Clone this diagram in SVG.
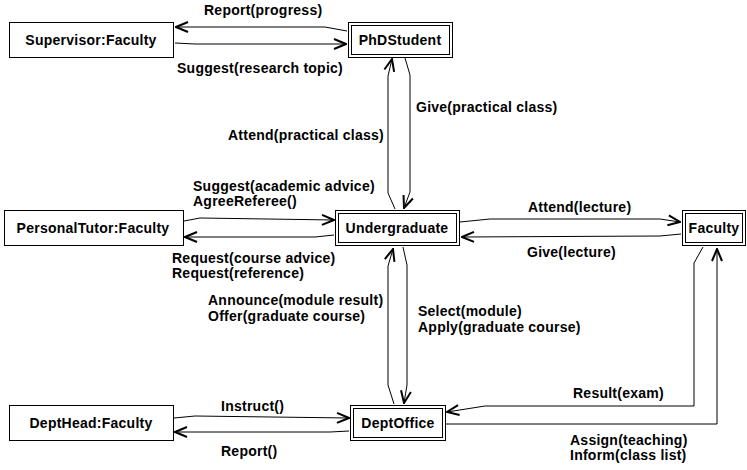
<svg xmlns="http://www.w3.org/2000/svg" width="747" height="470" viewBox="0 0 747 470">
  <defs>
    <style>
      text { font-family: "Liberation Sans", Arial, sans-serif; font-weight: bold; font-size: 14px; letter-spacing: 0.25px; fill: #000; }
      .name { text-anchor: middle; }
      .box { fill: #fff; stroke: #000; stroke-width: 1; }
      .link { fill: none; stroke: #000; stroke-width: 1; marker-end: url(#arrow); }
    </style>
    <marker id="arrow" viewBox="0 0 14 14" refX="13" refY="7" markerWidth="14" markerHeight="14" markerUnits="userSpaceOnUse" orient="auto">
      <path d="M1,2 L13,7 L1,12" fill="none" stroke="#000" stroke-width="2"/>
    </marker>
  </defs>
  <rect width="747" height="470" fill="#fff"/>

  <!-- connectors -->
  <g id="connectors">
    <polyline class="link" points="347,31 325,27 176,27"/>
    <polyline class="link" points="175,43 195,44 346,44"/>
    <polyline class="link" points="395,209 388,193 388,76 392,59"/>
    <polyline class="link" points="405,58 410,75 410,192 404,208"/>
    <polyline class="link" points="184,221 200,218 334,220"/>
    <polyline class="link" points="334,235 315,237 185,237"/>
    <polyline class="link" points="460,222 490,219 660,219 680,222"/>
    <polyline class="link" points="681,234 660,236 462,237"/>
    <polyline class="link" points="394,404 388,385 388,266 393,249"/>
    <polyline class="link" points="403,247 407,265 407,385 404,403"/>
    <polyline class="link" points="174,418 195,416 349,418"/>
    <polyline class="link" points="349,431 330,432 175,432"/>
    <polyline class="link" points="703,247 694,263 694,406 485,406 447,412"/>
    <polyline class="link" points="446,424 717,424 717,249"/>

    <text x="204" y="15">Report(progress)</text>
    <text x="177" y="73">Suggest(research topic)</text>
    <text x="416" y="112">Give(practical class)</text>
    <text x="228" y="140">Attend(practical class)</text>
    <text x="193" y="191">Suggest(academic advice)</text>
    <text x="193" y="206">AgreeReferee()</text>
    <text x="172" y="263">Request(course advice)</text>
    <text x="172" y="278">Request(reference)</text>
    <text x="528" y="212">Attend(lecture)</text>
    <text x="527" y="257">Give(lecture)</text>
    <text x="208" y="305">Announce(module result)</text>
    <text x="208" y="321">Offer(graduate course)</text>
    <text x="418" y="316">Select(module)</text>
    <text x="418" y="332">Apply(graduate course)</text>
    <text x="221" y="411">Instruct()</text>
    <text x="221" y="456">Report()</text>
    <text x="573" y="398">Result(exam)</text>
    <text x="570" y="445">Assign(teaching)</text>
    <text x="570" y="460">Inform(class list)</text>
  </g>

  <!-- objects -->
  <g id="supervisor">
    <rect class="box" x="9.5" y="22.5" width="164" height="35"/>
    <text class="name" x="91" y="45">Supervisor:Faculty</text>
  </g>
  <g id="phdstudent">
    <rect class="box" x="348.5" y="22.5" width="104" height="35"/>
    <rect class="box" x="351.5" y="25.5" width="98" height="29"/>
    <text class="name" x="400" y="45">PhDStudent</text>
  </g>
  <g id="personaltutor">
    <rect class="box" x="4.5" y="210.5" width="179" height="35"/>
    <text class="name" x="93" y="233">PersonalTutor:Faculty</text>
  </g>
  <g id="undergraduate">
    <rect class="box" x="335.5" y="210.5" width="124" height="35"/>
    <rect class="box" x="338.5" y="213.5" width="118" height="29"/>
    <text class="name" x="397" y="233">Undergraduate</text>
  </g>
  <g id="faculty">
    <rect class="box" x="682.5" y="210.5" width="63" height="35"/>
    <rect class="box" x="685.5" y="213.5" width="57" height="29"/>
    <text class="name" x="714" y="233">Faculty</text>
  </g>
  <g id="depthead">
    <rect class="box" x="9.5" y="405.5" width="164" height="35"/>
    <text class="name" x="91" y="428">DeptHead:Faculty</text>
  </g>
  <g id="deptoffice">
    <rect class="box" x="350.5" y="405.5" width="95" height="35"/>
    <rect class="box" x="353.5" y="408.5" width="89" height="29"/>
    <text class="name" x="398" y="428">DeptOffice</text>
  </g>
</svg>
